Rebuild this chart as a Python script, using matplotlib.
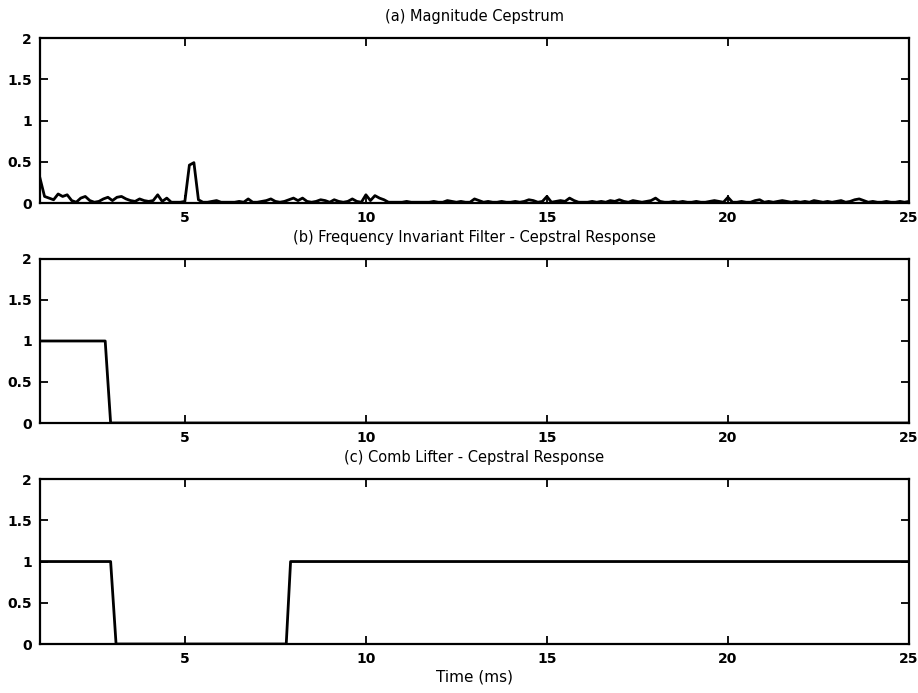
import numpy as np
import matplotlib
matplotlib.use("Agg")
import matplotlib.pyplot as plt

plt.rcParams['font.family'] = ['DejaVu Sans']

# (a) Magnitude cepstrum, sampled every 0.125 ms from 1 to 25 ms
cep_start = 1.0
cep_step = 0.125
cep_values = [
    0.30, 0.08, 0.06, 0.04, 0.11, 0.08, 0.10, 0.03,   # 1
    0.01, 0.06, 0.08, 0.03, 0.01, 0.02, 0.05, 0.07,   # 2
    0.03, 0.07, 0.08, 0.05, 0.03, 0.02, 0.05, 0.03,   # 3
    0.02, 0.03, 0.10, 0.02, 0.06, 0.01, 0.01, 0.01,   # 4
    0.02, 0.46, 0.49, 0.04, 0.01, 0.01, 0.02, 0.03,   # 5
    0.01, 0.01, 0.01, 0.01, 0.02, 0.01, 0.05, 0.01,   # 6
    0.01, 0.02, 0.03, 0.05, 0.02, 0.01, 0.02, 0.04,   # 7
    0.06, 0.03, 0.06, 0.02, 0.01, 0.02, 0.04, 0.03,   # 8
    0.01, 0.04, 0.02, 0.01, 0.02, 0.05, 0.02, 0.01,   # 9
    0.10, 0.03, 0.09, 0.06, 0.04, 0.01, 0.01, 0.01,   # 10
    0.01, 0.02, 0.01, 0.01, 0.01, 0.01, 0.01, 0.02,   # 11
    0.01, 0.01, 0.03, 0.02, 0.01, 0.02, 0.01, 0.01,   # 12
    0.05, 0.03, 0.01, 0.02, 0.01, 0.01, 0.02, 0.01,   # 13
    0.01, 0.02, 0.01, 0.02, 0.04, 0.03, 0.01, 0.02,   # 14
    0.08, 0.01, 0.02, 0.03, 0.02, 0.06, 0.03, 0.01,   # 15
    0.01, 0.01, 0.02, 0.01, 0.02, 0.01, 0.03, 0.02,   # 16
    0.04, 0.02, 0.01, 0.03, 0.02, 0.01, 0.02, 0.03,   # 17
    0.06, 0.02, 0.01, 0.01, 0.02, 0.01, 0.02, 0.01,   # 18
    0.01, 0.02, 0.01, 0.01, 0.02, 0.03, 0.02, 0.01,   # 19
    0.07, 0.01, 0.01, 0.02, 0.01, 0.01, 0.03, 0.04,   # 20
    0.01, 0.02, 0.01, 0.02, 0.03, 0.02, 0.01, 0.02,   # 21
    0.01, 0.02, 0.01, 0.03, 0.02, 0.01, 0.02, 0.01,   # 22
    0.02, 0.03, 0.01, 0.02, 0.04, 0.05, 0.03, 0.01,   # 23
    0.02, 0.01, 0.01, 0.02, 0.01, 0.01, 0.02, 0.01,   # 24
    0.02,                                             # 25
]
cep_time = cep_start + cep_step * np.arange(len(cep_values))

# (b) Frequency invariant filter
fif_time = [1.0, 2.8, 2.95, 25.0]
fif_values = [1, 1, 0, 0]

# (c) Comb lifter
comb_time = [1.0, 2.95, 3.1, 7.8, 7.92, 25.0]
comb_values = [1, 1, 0, 0, 1, 1]

titles = ["(a) Magnitude Cepstrum",
          "(b) Frequency Invariant Filter - Cepstral Response",
          "(c) Comb Lifter - Cepstral Response"]
xticks = [5, 10, 15, 20, 25]
yticks = [0, 0.5, 1, 1.5, 2]
ytick_labels = ["0", "0.5", "1", "1.5", "2"]

fig = plt.figure(figsize=(9.18, 6.93), dpi=100)
left, width = 0.0436, 0.9466
rects = [(left, 0.707, width, 0.238),
         (left, 0.3896, width, 0.2367),
         (left, 0.0707, width, 0.238)]
series = [(cep_time, cep_values), (fif_time, fif_values), (comb_time, comb_values)]

for rect, (xs, ys), title in zip(rects, series, titles):
    ax = fig.add_axes(rect)
    ax.plot(xs, ys, color='black', linewidth=2.0)
    ax.set_xlim(1, 25)
    ax.set_ylim(0, 2)
    ax.set_xticks(xticks)
    ax.set_xticklabels([str(t) for t in xticks])
    ax.set_yticks(yticks)
    ax.set_yticklabels(ytick_labels)
    ax.tick_params(direction='in', top=True, right=True, length=6, width=1.3,
                   pad=6, labelsize=10)
    for lab in ax.get_xticklabels() + ax.get_yticklabels():
        lab.set_fontweight('bold')
    for sp in ax.spines.values():
        sp.set_linewidth(1.6)
    ax.set_title(title, fontsize=10.5, pad=12)

ax.set_xlabel("Time (ms)", fontsize=11, labelpad=2)

fig.savefig("out.png", dpi=100)
